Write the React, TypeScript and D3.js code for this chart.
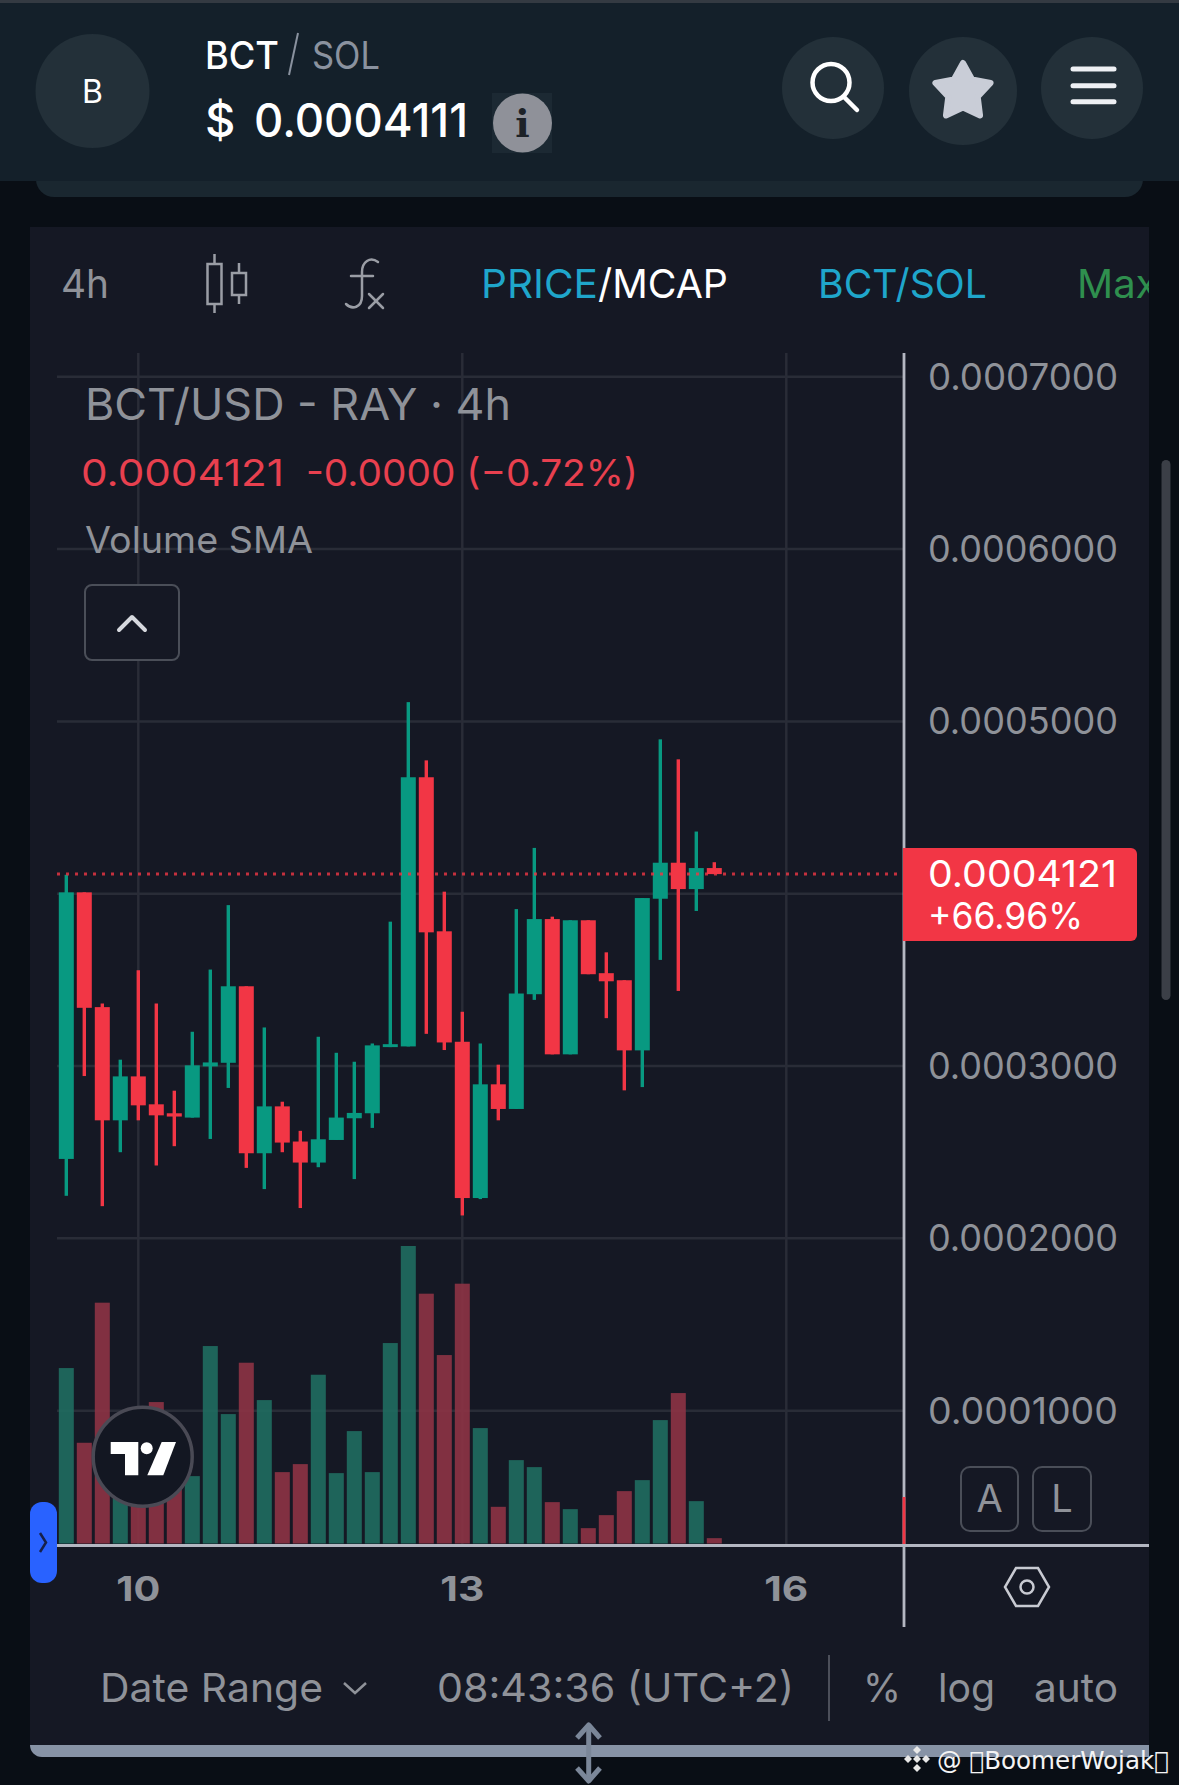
import React from "react";
import * as d3 from "d3";

// price values in units of 0.0001
const opens = [2.461,4.008,3.342,2.685,2.94,2.778,2.726,2.701,2.998,3.019,3.463,2.494,2.766,2.562,2.44,2.571,2.697,2.726,3.11,3.114,4.676,3.782,3.141,2.234,2.894,2.751,3.417,3.853,3.068,3.846,3.539,3.498,3.091,3.971,4.18,4.027,4.149];
const closes = [4.008,3.338,2.685,2.94,2.772,2.714,2.707,3.004,3.021,3.463,2.494,2.766,2.556,2.44,2.575,2.701,2.728,3.12,3.127,4.676,3.776,3.137,2.234,2.894,2.751,3.421,3.853,3.068,3.846,3.533,3.492,3.091,3.975,4.18,4.027,4.149,4.114];
const highs = [4.11,4.008,3.363,3.037,3.556,3.363,2.857,3.199,3.56,3.934,3.463,3.224,2.793,2.624,3.17,3.077,3.025,3.131,3.838,5.112,4.774,4.012,3.315,3.131,3.008,3.911,4.266,3.867,3.846,3.846,3.66,3.498,3.975,4.896,4.78,4.361,4.183];
const lows = [2.247,2.942,2.187,2.5,2.685,2.423,2.535,2.701,2.577,2.873,2.409,2.286,2.5,2.176,2.413,2.571,2.344,2.641,3.11,3.114,3.187,3.093,2.133,2.228,2.685,2.751,3.384,3.068,3.068,3.533,3.278,2.859,2.878,3.616,3.436,3.9,4.114];
const volumes = [52.6,30.2,72.2,24,30,42.4,24,20.2,59.2,38.8,54.2,43,21.4,23.8,50.6,21.1,33.7,21.4,60.1,89.2,74.9,56.5,77.9,34.6,11,25,22.9,12.4,10.3,4.6,8.5,15.7,19,37,45.1,12.7,1.6];
const priceTicks = [7, 6, 5, 4, 3, 2, 1];
const hiddenPriceLabel = 4; // covered by the last-price tag in the reference
const dateTicks = [{ index: 4, label: "10" }, { index: 22, label: "13" }, { index: 40, label: "16" }];

const BG = "#090e15", PANEL = "#151824", HEAD = "#14202a", CIRC = "#233039";
const GREY = "#8f9299", GRID = "#292c37";
const UP = "#089981", DOWN = "#f23645", UPV = "#1f6a5f", DOWNV = "#8a3344";
const FONT = "Inter, sans-serif";

export default function App() {
  const x = d3.scaleLinear().domain([0, 36]).range([66.3, 714.3]);
  const y = d3.scaleLinear().domain([0, 7]).range([1583, 376.8]);
  const v = d3.scaleLinear().domain([0, 89.2]).range([1543.5, 1246]);
  const bodyW = 15, wickW = 3.4, volW = 15;
  const last = closes[closes.length - 1];
  const star = d3.lineRadial().curve(d3.curveLinearClosed)(
    d3.range(10).map((i) => [(i * Math.PI) / 5, i % 2 === 0 ? 29 : 15.5] as [number, number])
  ) as string;
  return (
    <svg width={1179} height={1785} viewBox="0 0 1179 1785" style={{ position: "absolute", left: 0, top: 0, display: "block" }} fontFamily={FONT}>
      <rect width={1179} height={1785} fill={BG} />
      {/* card and header */}
      <rect x={36} y={150} width={1107} height={47} rx={18} fill="#1a2730" />
      <rect width={1179} height={181} fill={HEAD} />
      <rect width={1179} height={3} fill="#343a42" />
      <circle cx={92.5} cy={91} r={57} fill={CIRC} />
      <text x={92.5} y={103} fontSize={32} fill="#fff" textAnchor="middle">B</text>
      <text x={205} y={69} fontSize={38} fontWeight={500} fill="#fff" textLength={74} lengthAdjust="spacingAndGlyphs">BCT</text>
      <line x1={298} y1={33} x2={289} y2={75} stroke="#8a929f" strokeWidth={2} />
      <text x={312} y={69} fontSize={38} fill="#8a929f" textLength={68} lengthAdjust="spacingAndGlyphs">SOL</text>
      <text x={205} y={137} fontSize={47} fontWeight={500} fill="#fff">$</text>
      <text x={254} y={137} fontSize={47} fontWeight={500} fill="#fff" textLength={214} lengthAdjust="spacingAndGlyphs">0.0004111</text>
      <rect x={492} y={93} width={60} height={60} fill="#1c2933" />
      <circle cx={522.5} cy={123} r={29.5} fill="#8f9199" />
      <text x={522.5} y={137} fontSize={38} fontWeight={800} fill="#1d2228" textAnchor="middle" fontFamily="'DejaVu Serif', serif">i</text>
      {/* header buttons */}
      <circle cx={833} cy={88} r={51} fill={CIRC} />
      <circle cx={831} cy={82.5} r={18.5} fill="none" stroke="#fff" strokeWidth={4.5} />
      <line x1={844} y1={97} x2={857} y2={110} stroke="#fff" strokeWidth={4.5} strokeLinecap="round" />
      <circle cx={963} cy={91} r={54} fill={CIRC} />
      <path d={star} transform="translate(963,92)" fill="#c9cdd7" stroke="#c9cdd7" strokeWidth={6} strokeLinejoin="round" />
      <circle cx={1092} cy={88} r={51} fill={CIRC} />
      {[69, 85.7, 101.7].map((ly) => (
        <line key={ly} x1={1073} y1={ly} x2={1114} y2={ly} stroke="#eef0f4" strokeWidth={5} strokeLinecap="round" />
      ))}
      {/* panel */}
      <path d="M30,227H1149V1757H42a12,12 0 0 1 -12,-12Z" fill={PANEL} />
      {/* toolbar */}
      <text x={61} y={298} fontSize={40} fill={GREY} textLength={48} lengthAdjust="spacingAndGlyphs">4h</text>
      <g stroke="#9a9da5" strokeWidth={2.5} fill="none">
        <line x1={214.5} y1={254} x2={214.5} y2={313} />
        <rect x={207.5} y={264} width={14} height={40} fill={PANEL} />
        <line x1={239} y1={263} x2={239} y2={304} />
        <rect x={232} y={273} width={14} height={22} fill={PANEL} />
      </g>
      <g stroke="#9a9da5" strokeWidth={2.5} fill="none" strokeLinecap="round">
        <path d="M378,262C370,256 362,262 362,272V296C362,308 352,310 346,304" />
        <line x1={351} y1={276} x2={373} y2={276} />
        <line x1={369} y1={294} x2={383} y2={308} />
        <line x1={383} y1={294} x2={369} y2={308} />
      </g>
      <text x={481} y={298} fontSize={40} fill="#1fa6cb" textLength={117} lengthAdjust="spacingAndGlyphs">PRICE</text>
      <text x={598} y={298} fontSize={40} fill="#fff" textLength={130} lengthAdjust="spacingAndGlyphs">/MCAP</text>
      <text x={818} y={298} fontSize={40} fill="#1fa6cb" textLength={169} lengthAdjust="spacingAndGlyphs">BCT/SOL</text>
      <clipPath id="pclip"><rect x={30} y={227} width={1119} height={1530} /></clipPath>
      <g clipPath="url(#pclip)">
        <text x={1077} y={298} fontSize={40} fill="#2f8f4e">Max</text>
      </g>
      {/* grid */}
      {priceTicks.map((t) => (
        <line key={t} x1={57} x2={904} y1={y(t)} y2={y(t)} stroke={GRID} strokeWidth={2.5} />
      ))}
      {dateTicks.map((t) => (
        <line key={t.label} x1={x(t.index)} x2={x(t.index)} y1={353} y2={1545} stroke={GRID} strokeWidth={2.5} />
      ))}
      {/* volume */}
      {volumes.map((d, i) => (
        <rect key={i} x={x(i) - volW / 2} y={v(d)} width={volW} height={v(0) - v(d)} fill={closes[i] >= opens[i] ? UPV : DOWNV} opacity={0.93} />
      ))}
      {/* candles */}
      {opens.map((o, i) => {
        const c = closes[i];
        const col = c >= o ? UP : DOWN;
        const top = Math.max(o, c), bot = Math.min(o, c);
        return (
          <g key={i} fill={col}>
            <rect x={x(i) - wickW / 2} y={y(highs[i])} width={wickW} height={y(lows[i]) - y(highs[i])} />
            <rect x={x(i) - bodyW / 2} y={y(top)} width={bodyW} height={Math.max(y(bot) - y(top), 2)} />
          </g>
        );
      })}
      <line x1={57} x2={902} y1={y(last)} y2={y(last)} stroke={DOWN} strokeWidth={3} strokeDasharray="3 6" opacity={0.8} />
      {/* legend */}
      <text x={85} y={420} fontSize={44} fill={GREY} textLength={426} lengthAdjust="spacingAndGlyphs">BCT/USD - RAY · 4h</text>
      <text x={81} y={486} fontSize={37} fill="#e8404f" textLength={203} lengthAdjust="spacingAndGlyphs">0.0004121</text>
      <text x={306} y={486} fontSize={37} fill="#e8404f" textLength={332} lengthAdjust="spacingAndGlyphs">-0.0000 (−0.72%)</text>
      <text x={85} y={553} fontSize={37} fill={GREY} textLength={228} lengthAdjust="spacingAndGlyphs">Volume SMA</text>
      <rect x={85} y={585} width={94} height={75} rx={7} fill={PANEL} stroke="#4a4e58" strokeWidth={2} />
      <path d="M119,630L132,617L145,630" fill="none" stroke="#d6d8de" strokeWidth={4} strokeLinecap="round" strokeLinejoin="round" />
      {/* price axis */}
      <line x1={904} x2={904} y1={353} y2={1627} stroke="#b4b7c2" strokeWidth={2.8} />
      <line x1={904} x2={904} y1={1497} y2={1545} stroke={DOWN} strokeWidth={2.8} />
      <line x1={57} x2={1149} y1={1545.5} y2={1545.5} stroke="#b4b7c2" strokeWidth={3} />
      {priceTicks.filter((t) => t !== hiddenPriceLabel).map((t) => (
        <text key={t} x={928} y={y(t) + 13} fontSize={37} fill={GREY} fontWeight={400} textLength={190} lengthAdjust="spacingAndGlyphs">
          {"0.000" + t + "000"}
        </text>
      ))}
      <path d="M903,848H1131a6,6 0 0 1 6,6V935a6,6 0 0 1 -6,6H903Z" fill={DOWN} />
      <text x={928} y={887} fontSize={37} fill="#fff" textLength={189} lengthAdjust="spacingAndGlyphs">0.0004121</text>
      <text x={928} y={929} fontSize={37} fill="#fff" textLength={155} lengthAdjust="spacingAndGlyphs">+66.96%</text>
      <rect x={961} y={1467} width={57} height={64} rx={9} fill="none" stroke="#4a4e58" strokeWidth={2} />
      <rect x={1033} y={1467} width={58} height={64} rx={9} fill="none" stroke="#4a4e58" strokeWidth={2} />
      <text x={989.5} y={1512} fontSize={38} fill={GREY} textAnchor="middle">A</text>
      <text x={1062} y={1512} fontSize={38} fill={GREY} textAnchor="middle">L</text>
      {/* date axis */}
      {dateTicks.map((t) => (
        <text key={t.label} x={x(t.index) - 22} y={1601} fontSize={34} fontWeight={700} fill={GREY} textLength={44} lengthAdjust="spacingAndGlyphs">{t.label}</text>
      ))}
      <path d="M1016,1568H1038L1049,1587L1038,1606H1016L1005,1587Z" fill="none" stroke="#c8cad2" strokeWidth={2.5} />
      <circle cx={1027} cy={1587} r={6.5} fill="none" stroke="#c8cad2" strokeWidth={2.5} />
      {/* logo */}
      <circle cx={142.7} cy={1456.7} r={49.5} fill="#131722" stroke="#4a4a55" strokeWidth={3.5} />
      <path d="M110.7,1442H138.3V1475.3H125V1454H110.7Z" fill="#fff" />
      <circle cx={146.7} cy={1448.3} r={6} fill="#fff" />
      <path d="M161.7,1442H176L163.3,1475.3H147.3Z" fill="#fff" />
      {/* left handle */}
      <rect x={30} y={1502} width={27} height={81} rx={12} fill="#2962ff" />
      <path d="M40,1533L46,1542.5L40,1552" fill="none" stroke="#16204a" strokeWidth={2.5} />
      {/* scrollbar */}
      <rect x={1161.5} y={460} width={9} height={540} rx={4.5} fill="#3b3f47" />
      {/* footer */}
      <text x={100} y={1702} fontSize={40} fill={GREY} textLength={223} lengthAdjust="spacingAndGlyphs">Date Range</text>
      <path d="M344,1683L355,1693L366,1683" fill="none" stroke={GREY} strokeWidth={2.5} />
      <text x={437} y={1702} fontSize={40} fill={GREY} textLength={357} lengthAdjust="spacingAndGlyphs">08:43:36 (UTC+2)</text>
      <line x1={829} x2={829} y1={1655} y2={1721} stroke="#4c4f5a" strokeWidth={2} />
      <text x={863} y={1702} fontSize={40} fill={GREY} textLength={38} lengthAdjust="spacingAndGlyphs">%</text>
      <text x={938} y={1702} fontSize={40} fill={GREY} textLength={57} lengthAdjust="spacingAndGlyphs">log</text>
      <text x={1034} y={1702} fontSize={40} fill={GREY} textLength={84} lengthAdjust="spacingAndGlyphs">auto</text>
      <path d="M30,1745H1149V1757H42a12,12 0 0 1 -12,-12Z" fill="#8793a6" />
      <g stroke="#7b8799" strokeWidth={5} fill="none" strokeLinejoin="round">
        <line x1={588.7} x2={588.7} y1={1726} y2={1779} />
        <path d="M577,1738L588.7,1725L600,1738" />
        <path d="M577,1768L588.7,1781L600,1768" />
      </g>
      {/* watermark */}
      <g fill="#e8e8e8">
        <path d="M917,1746l4,4l-4,4l-4,-4Z" />
        <path d="M908,1755l4,4l-4,4l-4,-4Z" />
        <path d="M926,1755l4,4l-4,4l-4,-4Z" />
        <path d="M917,1764l4,4l-4,4l-4,-4Z" />
        <path d="M917,1755l4,4l-4,4l-4,-4Z" />
      </g>
      <text x={937} y={1769} fontSize={24} fill="#f4f4f4" fontFamily="'DejaVu Sans', sans-serif" textLength={232} lengthAdjust="spacingAndGlyphs">@ {"\u{10FFFD}"}BoomerWojak{"\u{10FFFD}"}</text>
    </svg>
  );
}
